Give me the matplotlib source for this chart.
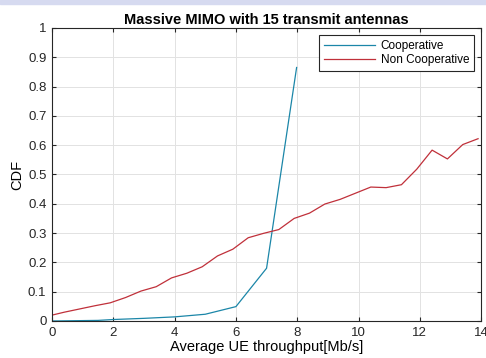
import numpy as np
import matplotlib.pyplot as plt
from matplotlib.patches import Rectangle

# Cooperative CDF
coop_x = [0, 1.5, 2, 3, 4, 5, 6, 7, 7.98]
coop_y = [0, 0.002, 0.005, 0.009, 0.014, 0.023, 0.049, 0.18, 0.865]

# Non cooperative CDF
noncoop_x = [0, 0.4, 0.9, 1.4, 1.9, 2.4, 2.9, 3.4, 3.9, 4.4, 4.9, 5.4, 5.9, 6.4,
             6.9, 7.4, 7.9, 8.4, 8.9, 9.4, 9.9, 10.4, 10.9, 11.4, 11.9, 12.4,
             12.9, 13.4, 13.9]
noncoop_y = [0.02, 0.03, 0.041, 0.052, 0.062, 0.08, 0.102, 0.117, 0.147, 0.163,
             0.185, 0.222, 0.245, 0.284, 0.299, 0.312, 0.35, 0.368, 0.399, 0.415,
             0.436, 0.457, 0.455, 0.465, 0.518, 0.583, 0.553, 0.602, 0.622]

plt.rcParams['font.family'] = ['Liberation Sans', 'DejaVu Sans']

fig = plt.figure(figsize=(4.86, 3.58), dpi=100)
fig.patches.append(Rectangle((0, 0.99), 1, 0.01, transform=fig.transFigure,
                             color='#d6daf0', zorder=0))
ax = fig.add_axes([0.107, 0.1034, 0.883, 0.8186])

ax.plot(coop_x, coop_y, color='#1b86a8', lw=0.9, label='Cooperative')
ax.plot(noncoop_x, noncoop_y, color='#c0303a', lw=0.9, label='Non Cooperative')

ax.set_xlim(0, 14)
ax.set_ylim(0, 1)
ax.set_xticks(np.arange(0, 15, 2))
ax.set_yticks(np.arange(0, 1.01, 0.1))
ax.set_yticklabels(['0', '0.1', '0.2', '0.3', '0.4', '0.5', '0.6', '0.7', '0.8', '0.9', '1'])
ax.grid(True, color='#e2e2e2', lw=0.7)
ax.tick_params(direction='in', top=True, right=True, labelsize=9.5, colors='#262626',
               length=3, pad=4)
for s in ax.spines.values():
    s.set_color('#262626')
    s.set_linewidth(0.8)

ax.set_title('Massive MIMO with 15 transmit antennas', fontsize=10.5, fontweight='bold', pad=3)
ax.set_xlabel('Average UE throughput[Mb/s]', fontsize=10.5, labelpad=1)
ax.set_ylabel('CDF', fontsize=10.5, labelpad=3)

leg = ax.legend(loc='upper right', fontsize=8.5, fancybox=False, framealpha=1,
                edgecolor='#262626', handlelength=4.3, borderaxespad=0.6,
                handletextpad=0.5, labelspacing=0.2)
leg.get_frame().set_linewidth(0.8)

fig.savefig('out.png', dpi=100)
